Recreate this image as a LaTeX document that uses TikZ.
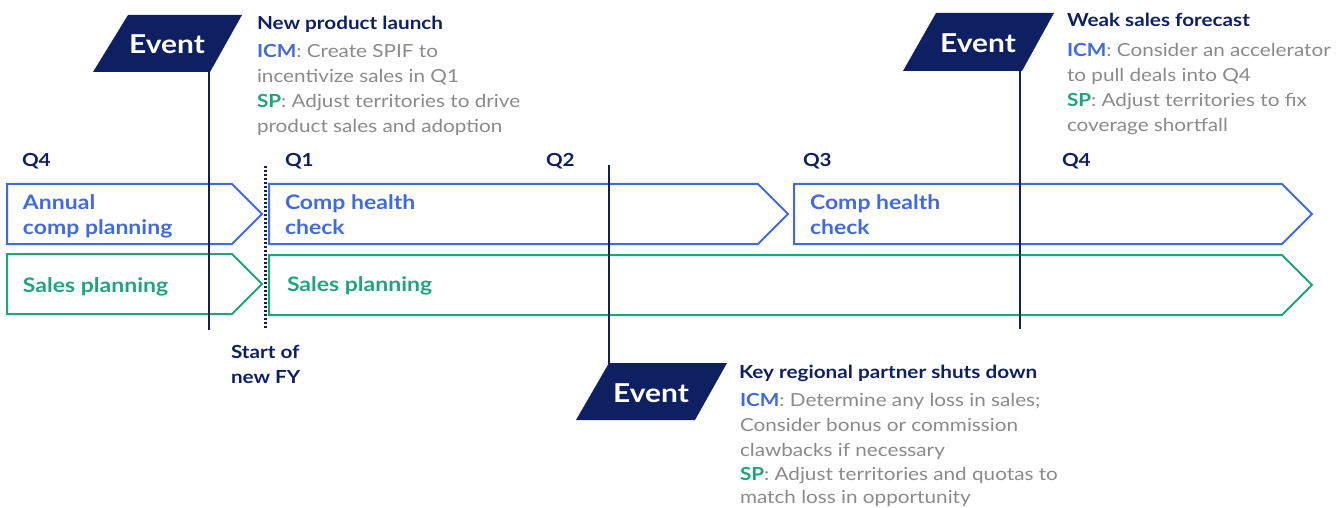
\documentclass[tikz,border=0pt]{standalone}
\usepackage{fontspec}
\setmainfont{Lato}[FakeStretch=1.15]
\definecolor{navy}{HTML}{0F2062}
\definecolor{cblue}{HTML}{4169E1}
\definecolor{cgreen}{HTML}{20A47F}
\definecolor{cgray}{HTML}{8A8A8A}
\newcommand{\icm}{\textcolor{cblue}{\bfseries ICM}}
\newcommand{\spx}{\textcolor{cgreen}{\bfseries SP}}
\tikzset{
  txt/.style={inner sep=0pt, outer sep=0pt, anchor=base west},
  ttl/.style={txt, text=navy, font=\bfseries\fontsize{18}{22}\selectfont},
  body/.style={txt, text=cgray, font=\fontsize{18}{22}\selectfont},
  qlab/.style={txt, text=navy, font=\bfseries\fontsize{18}{20}\selectfont},
  blab/.style={txt, text=cblue, font=\bfseries\fontsize{20}{24}\selectfont},
  glab/.style={txt, text=cgreen, font=\bfseries\fontsize{20}{24}\selectfont},
  evtext/.style={inner sep=0pt, anchor=base, text=white, font=\bfseries\fontsize{26}{30}\selectfont},
  evbox/.style={fill=navy},
  evline/.style={draw=navy, line width=2pt},
  bluebox/.style={draw=cblue, line width=2pt, line join=miter},
  greenbox/.style={draw=cgreen, line width=2pt, line join=miter},
}
\begin{document}
\begin{tikzpicture}[x=1pt,y=-1pt]
\useasboundingbox (0,0) rectangle (1342,508);

% ---- blue row
\draw[bluebox] (7,184) -- (232,184) -- (262,214) -- (232,244) -- (7,244) -- cycle;
\draw[bluebox] (269,184) -- (758,184) -- (788,214) -- (758,244) -- (269,244) -- cycle;
\draw[bluebox] (794,184) -- (1282,184) -- (1312,214) -- (1282,244) -- (794,244) -- cycle;
% ---- green row
\draw[greenbox] (7,254) -- (232,254) -- (262,284) -- (232,314) -- (7,314) -- cycle;
\draw[greenbox] (269,255) -- (1282,255) -- (1312,285) -- (1282,315) -- (269,315) -- cycle;

% ---- box labels
\node[blab] (ann1) at (23,209) {Annual};
\node[blab] (ann2) at (23,234) {comp planning};
\node[blab] (ch1a) at (285,209) {Comp health};
\node[blab] (ch1b) at (285,234) {check};
\node[blab] (ch2a) at (810,209) {Comp health};
\node[blab] (ch2b) at (810,234) {check};
\node[glab] (sp1) at (23,292) {Sales planning};
\node[glab] (sp2) at (287,291) {Sales planning};

% ---- quarter labels
\node[qlab] (q4a) at (22,167) {Q4};
\node[qlab] (q1) at (285,167) {Q1};
\node[qlab] (q2) at (546,167) {Q2};
\node[qlab] (q3) at (803,167) {Q3};
\node[qlab] (q4b) at (1062,167) {Q4};

% ---- start of FY
\coordinate (fyt) at (265.5,166);
\coordinate (fyb) at (265.5,329);
\draw[navy, line width=2.6pt, dash pattern=on 2pt off 2pt] (fyt) -- (fyb);
\node[qlab] (fy1) at (231,358) {Start of};
\node[qlab] (fy2) at (231,383) {new FY};

% ---- Event 1
\fill[evbox] (128,15) -- (242,15) -- (210,72) -- (93,72) -- cycle;
\coordinate (e1c) at (209,72);
\coordinate (e1b) at (209,330);
\node[evtext] (ev1) at (167,54) {Event};
\draw[evline] (e1c) -- (e1b);
\node[ttl] (t1) at (257,30) {New product launch};
\node[body] (t1a) at (257,58) {\icm: Create SPIF to};
\node[body] (t1b) at (257,83) {incentivize sales in Q1};
\node[body] (t1c) at (257,108) {\spx: Adjust territories to drive};
\node[body] (t1d) at (257,133) {product sales and adoption};

% ---- Event 2
\fill[evbox] (609,363) -- (727,363) -- (695,420) -- (576,420) -- cycle;
\coordinate (e2t) at (609,165);
\coordinate (e2c) at (609,364);
\node[evtext] (ev2) at (651,402) {Event};
\draw[evline] (e2t) -- (e2c);
\node[ttl] (t2) at (739,378) {Key regional partner shuts down};
\node[body] (t2a) at (740,406) {\icm: Determine any loss in sales;};
\node[body] (t2b) at (740,431) {Consider bonus or commission};
\node[body] (t2c) at (740,456) {clawbacks if necessary};
\node[body] (t2d) at (740,480) {\spx: Adjust territories and quotas to};
\node[body] (t2e) at (740,503) {match loss in opportunity};

% ---- Event 3
\fill[evbox] (936,13) -- (1054,13) -- (1022,71) -- (903,71) -- cycle;
\coordinate (e3c) at (1020,71);
\coordinate (e3b) at (1020,329);
\node[evtext] (ev3) at (978,53) {Event};
\draw[evline] (e3c) -- (e3b);
\node[ttl] (t3) at (1067,27) {Weak sales forecast};
\node[body] (t3a) at (1067,57) {\icm: Consider an accelerator};
\node[body] (t3b) at (1067,82) {to pull deals into Q4};
\node[body] (t3c) at (1067,107) {\spx: Adjust territories to fix};
\node[body] (t3d) at (1067,132) {coverage shortfall};
\end{tikzpicture}
\end{document}
